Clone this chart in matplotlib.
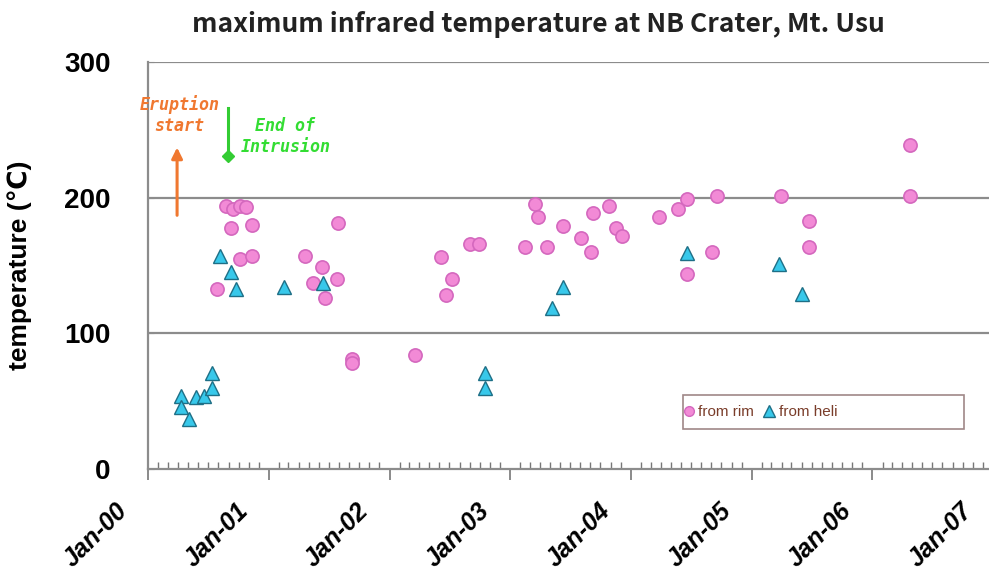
import matplotlib
matplotlib.use("Agg")
import matplotlib.pyplot as plt
import matplotlib.dates as mdates
import matplotlib.transforms as mtransforms
from matplotlib.patches import Rectangle
from matplotlib.lines import Line2D
import pandas as pd

# data
rim_dates = ["2000-08-24", "2000-09-14", "2000-10-06", "2000-10-24", "2000-09-08",
             "2000-11-11", "2000-10-06", "2000-11-11", "2000-07-28", "2001-04-20",
             "2001-05-15", "2001-06-11", "2001-06-20", "2001-07-26", "2001-07-29",
             "2001-09-10", "2001-09-10", "2002-03-18", "2002-06-05", "2002-06-20",
             "2002-07-08", "2002-09-01", "2002-09-28", "2003-02-14", "2003-03-17",
             "2003-03-26", "2003-04-22", "2003-06-11", "2003-08-03", "2003-09-02",
             "2003-09-08", "2003-10-27", "2003-11-17", "2003-12-04", "2004-03-26",
             "2004-05-23", "2004-06-20", "2004-06-20", "2004-09-03", "2004-09-18",
             "2005-03-30", "2005-06-22", "2005-06-22", "2006-04-25", "2006-04-25"]
rim_temp = [194, 192, 194, 193, 178,
            180, 155, 157, 133, 157,
            137, 149, 126, 140, 181,
            81, 78, 84, 156, 128,
            140, 166, 166, 164, 195,
            186, 164, 179, 170, 160,
            189, 194, 178, 172, 186,
            192, 199, 144, 160, 201,
            201, 183, 164, 239, 201]

heli_dates = ["2000-04-10", "2000-04-10", "2000-05-04", "2000-05-25", "2000-06-19",
              "2000-07-14", "2000-07-14", "2000-08-06", "2000-09-08", "2000-09-23",
              "2001-02-15", "2001-06-14", "2002-10-16", "2002-10-16", "2003-05-07",
              "2003-06-11", "2004-06-20", "2005-03-24", "2005-06-02"]
heli_temp = [54, 46, 37, 53, 54,
             60, 71, 157, 145, 133,
             134, 137, 71, 60, 119,
             134, 159, 151, 129]

year_ticks = ["2000-01-01", "2001-01-01", "2002-01-01", "2003-01-01",
              "2004-01-01", "2005-01-01", "2006-01-01", "2007-01-01"]
year_labels = ["Jan-00", "Jan-01", "Jan-02", "Jan-03", "Jan-04", "Jan-05", "Jan-06", "Jan-07"]

eruption_start = "2000-03-29"
end_intrusion = "2000-08-30"

rim_x = pd.to_datetime(rim_dates)
heli_x = pd.to_datetime(heli_dates)
ticks_x = pd.to_datetime(year_ticks)

fig = plt.figure(figsize=(9.89, 5.88), dpi=100)
W, H = 989.0, 588.0
ax = fig.add_axes([148 / W, 1 - 469 / H, (993 - 148) / W, (469 - 62) / H])

ax.set_xlim(ticks_x[0], ticks_x[-1])
ax.set_ylim(0, 300)

# gridlines
for y in [100, 200, 300]:
    ax.axhline(y, color="#8c8c8c", lw=1.6, zorder=1)

ax.plot(rim_x, rim_temp, "o", ms=9.5, mfc="#f28ad6", mec="#d468be", mew=1.2,
        ls="none", zorder=3, label="from rim")
ax.plot(heli_x, heli_temp, "^", ms=10, mfc="#38c8ea", mec="#1e6f86", mew=1.0,
        ls="none", zorder=4, label="from heli")

# axes styling
for s in ["top", "right"]:
    ax.spines[s].set_visible(False)
ax.spines["left"].set_color("#8c8c8c")
ax.spines["left"].set_linewidth(1.6)
ax.spines["bottom"].set_color("#8c8c8c")
ax.spines["bottom"].set_linewidth(1.6)

ax.set_yticks([0, 100, 200, 300])
ax.tick_params(axis="y", direction="in", length=4, color="#8c8c8c", pad=27,
               labelsize=20)
for lab in ax.get_yticklabels():
    lab.set_fontweight("bold")
    lab.set_family("Liberation Sans")

ax.set_xticks(ticks_x)
ax.set_xticklabels(year_labels)
ax.xaxis.set_minor_locator(mdates.MonthLocator())
ax.tick_params(axis="x", which="major", direction="out", length=8, width=1.2,
               color="#777777", pad=13, labelsize=18)
ax.tick_params(axis="x", which="minor", direction="in", length=5, width=1.0,
               color="#777777")
offset = mtransforms.ScaledTranslation(-16 / 100, 0, fig.dpi_scale_trans)
for lab in ax.get_xticklabels():
    lab.set_rotation(45)
    lab.set_ha("right")
    lab.set_va("top")
    lab.set_fontweight("bold")
    lab.set_fontstyle("italic")
    lab.set_family("Liberation Sans")
    lab.set_transform(lab.get_transform() + offset)

ax.set_ylabel("temperature (℃)", fontsize=19, fontweight="bold",
              family=["Liberation Sans", "DejaVu Sans"])
ax.yaxis.set_label_coords(-0.137, 0.5)

fig.text(538 / W, 1 - 24 / H, "maximum infrared temperature at NB Crater, Mt. Usu",
         ha="center", va="center", fontsize=19, fontweight="bold",
         family=["Noto Sans CJK JP", "DejaVu Sans"], color="#222222")

# annotations
ex = pd.to_datetime(eruption_start)
ax.annotate("", xy=(ex, 237), xytext=(ex, 187),
            arrowprops=dict(arrowstyle="-|>", color="#f07830", lw=2.2,
                            mutation_scale=16, shrinkA=0, shrinkB=0))
ax.text(pd.to_datetime("2000-04-05"), 261, "Eruption\nstart", ha="center", va="center",
        color="#f07830", fontsize=12, fontstyle="italic", fontweight="bold",
        family="DejaVu Sans Mono", linespacing=1.2)

ix = pd.to_datetime(end_intrusion)
ax.plot([ix, ix], [266, 232], color="#33cc33", lw=2.2, zorder=3)
ax.plot([ix], [231], "D", ms=6, color="#33cc33", zorder=3)
ax.text(pd.to_datetime("2001-02-20"), 245, "End of\nIntrusion", ha="center", va="center",
        color="#33dd33", fontsize=12, fontstyle="italic", fontweight="bold",
        family="DejaVu Sans Mono", linespacing=1.2)

# legend with its own box
box = Rectangle((0.633, 0.098), 0.333, 0.084, transform=ax.transAxes,
                fill=False, ec="#a08888", lw=1.2, zorder=5)
ax.add_patch(box)
handles = [
    Line2D([], [], marker="o", ls="none", ms=7, mfc="#f28ad6", mec="#d468be"),
    Line2D([], [], marker="^", ls="none", ms=8, mfc="#38c8ea", mec="#1e6f86"),
]
leg = ax.legend(handles, ["from rim", "from heli"], ncol=2, loc="center left",
                bbox_to_anchor=(0.615, 0.14), frameon=False, handletextpad=0.1,
                handlelength=1.0, columnspacing=0.5,
                prop=dict(family="Liberation Sans", size=11))
for t in leg.get_texts():
    t.set_color("#7a3d2a")

fig.savefig("out.png", dpi=100)
